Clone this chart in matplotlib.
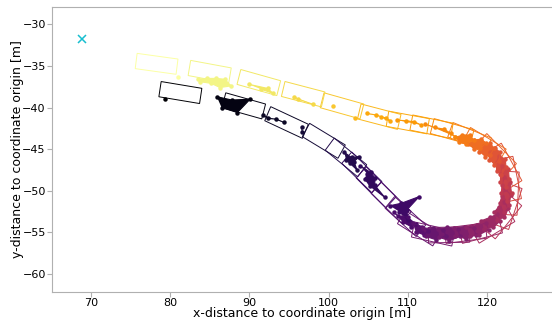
import numpy as np
import matplotlib.pyplot as plt
from matplotlib.patches import Rectangle

# vehicle poses per frame (centre x, centre y, heading in deg)
frame_x = [81.3, 89.3, 94.7, 99.4, 102.2, 104.2, 106.0, 107.9, 109.7, 111.4,
           113.2, 115.2, 117.3, 119.2, 120.8, 122.0, 122.7, 123.0, 122.9, 122.3,
           121.2, 119.7, 117.8, 115.6, 113.0, 110.0, 106.4, 101.7, 96.8, 91.2,
           85.0, 78.3]
frame_y = [-38.2, -39.8, -41.8, -44.0, -46.0, -47.8, -49.6, -51.4, -53.1, -54.5,
           -55.2, -55.3, -55.1, -54.8, -54.2, -53.2, -51.9, -50.3, -48.6, -47.0,
           -45.6, -44.5, -43.6, -42.9, -42.3, -41.8, -41.1, -39.8, -38.4, -37.0,
           -35.7, -34.75]
frame_heading = [-9, -15, -24, -30, -38, -43, -44, -43, -41, -31,
                 -12, 1, 7, 14, 30, 50, 71, 87, 102, 120,
                 136, 150, 159, 165, 169, 170, 166, 165, 166, 165,
                 170, 172.5]

# detected points, one group per entry, with the frame it belongs to
cluster_frame = [0, 1, 2, 3, 4, 5, 6, 7, 8, 9, 10, 11, 12, 13, 14, 15, 16, 17,
                 18, 19, 20, 21, 22, 23, 24, 25, 26, 27, 28, 29, 30, 31]
cluster_x = [
    [79.3],
    [85.9, 87.8, 90.1, 88.5, 86.5],
    [91.7, 92.3, 93.4, 94.4],
    [96.6, 96.7],
    [102.0, 102.9, 103.9, 103.2, 103.6, 102.7, 102.2],
    [104.0, 105.3, 105.9, 105.8, 107.1, 105.2, 104.6, 104.9],
    [107.75, 109.2, 111.45, 109.9, 110.0, 108.9],
    [108.2, 108.8, 110.0, 111.0, 110.4, 109.4],
    [110.6, 111.8, 112.6, 112.0, 111.0],
    [111.9, 113.2, 114.5, 114.8, 113.6, 112.3],
    [113.8, 115.0, 116.3, 116.6, 115.2, 114.0],
    [115.8, 117.2, 118.3, 118.6, 117.4, 116.0],
    [117.4, 118.7, 119.9, 120.2, 119.0, 117.8],
    [119.3, 120.4, 121.3, 121.7, 120.8, 119.6],
    [120.9, 121.5, 122.1, 122.7, 122.2, 121.2],
    [121.6, 121.9, 122.3, 123.0, 122.8, 122.1],
    [121.8, 121.9, 122.2, 122.9, 123.1, 122.5],
    [121.7, 121.7, 121.9, 122.7, 122.8, 122.4],
    [121.2, 121.2, 121.5, 122.3, 122.4, 121.8],
    [120.3, 120.4, 121.0, 121.7, 121.5, 120.9],
    [119.0, 119.6, 120.4, 120.9, 120.4, 119.7],
    [117.6, 118.4, 119.3, 119.9, 119.1, 118.3],
    [116.0, 116.9, 117.8, 118.3, 117.4, 116.5],
    [112.2, 113.4, 114.6, 115.4, 116.0],
    [108.6, 109.8, 110.8, 111.7],
    [104.8, 106.0, 107.3, 107.8, 106.6],
    [103.3],
    [100.6],
    [95.6, 96.2, 98.0],
    [89.9, 92.3, 93.0, 91.5],
    [83.5, 84.6, 85.8, 86.9, 87.7, 86.3, 85.2, 83.8],
    [81.0],
]
cluster_y = [
    [-39.0],
    [-38.7, -39.1, -39.0, -40.6, -40.0],
    [-40.9, -41.3, -41.4, -41.8],
    [-42.4, -43.0],
    [-45.4, -46.0, -45.9, -46.5, -47.5, -46.7, -46.3],
    [-47.0, -47.8, -48.5, -49.3, -50.8, -49.4, -48.6, -48.0],
    [-51.8, -51.5, -50.7, -52.3, -53.5, -52.5],
    [-52.6, -53.0, -53.2, -54.0, -54.3, -53.8],
    [-53.9, -54.3, -54.8, -55.3, -54.9],
    [-54.5, -54.5, -54.7, -55.4, -55.9, -55.5],
    [-54.6, -54.4, -54.6, -55.5, -56.0, -55.6],
    [-54.5, -54.3, -54.5, -55.3, -55.8, -55.4],
    [-54.3, -54.1, -53.9, -54.7, -55.3, -55.4],
    [-53.6, -53.2, -52.8, -53.6, -54.4, -54.6],
    [-52.6, -51.9, -51.3, -52.1, -53.2, -53.5],
    [-51.5, -50.6, -49.8, -50.5, -51.7, -52.5],
    [-50.3, -49.3, -48.3, -49.0, -50.3, -51.2],
    [-49.0, -48.0, -47.0, -47.4, -48.6, -49.6],
    [-47.6, -46.6, -45.8, -46.2, -47.2, -48.1],
    [-46.3, -45.4, -44.9, -45.4, -46.4, -46.9],
    [-45.3, -44.6, -44.3, -44.9, -45.7, -45.9],
    [-44.4, -43.9, -43.8, -44.3, -44.9, -45.0],
    [-43.6, -43.3, -43.3, -43.9, -44.4, -44.2],
    [-42.0, -42.4, -42.6, -43.1, -43.5],
    [-41.5, -41.6, -41.7, -42.1],
    [-40.7, -40.9, -41.3, -41.6, -41.1],
    [-41.3],
    [-39.8],
    [-38.7, -39.0, -39.6],
    [-37.2, -37.7, -38.3, -37.8],
    [-36.6, -36.5, -36.5, -36.6, -37.4, -37.6, -37.1, -36.9],
    [-36.3],
]

origin_x = [68.9]
origin_y = [-31.8]

veh_len = 5.2
veh_wid = 1.85

fig = plt.figure(figsize=(5.52, 3.24), dpi=100)
ax = fig.add_axes([52 / 552, 32 / 324, 500 / 552, 285 / 324])

n = len(frame_x)
colors = plt.cm.inferno(np.linspace(0, 1, n))

for i in range(n):
    r = Rectangle((frame_x[i] - veh_len / 2, frame_y[i] - veh_wid / 2), veh_len, veh_wid,
                  angle=frame_heading[i], rotation_point='center',
                  fill=False, edgecolor=colors[i], lw=0.7)
    ax.add_patch(r)

for f, xs, ys in zip(cluster_frame, cluster_x, cluster_y):
    c = colors[f]
    if len(xs) > 2:
        ax.fill(xs, ys, color=c, lw=0)
    ax.plot(xs, ys, 'o-', color=c, ms=2.2, lw=0.8)

ax.plot(origin_x, origin_y, 'x', color='#17becf', ms=5.5, mew=1.1)

ax.set_xlim(65.1, 128.2)
ax.set_ylim(-62.17, -27.92)
ax.set_xticks([70, 80, 90, 100, 110, 120])
ax.set_yticks([-30, -35, -40, -45, -50, -55, -60])
ax.set_xlabel('x-distance to coordinate origin [m]', fontsize=9, labelpad=-1)
ax.set_ylabel('y-distance to coordinate origin [m]', fontsize=9, labelpad=-1)
ax.tick_params(labelsize=8, color='#b0b0b0', length=3.5, pad=1)
for s in ['left', 'bottom', 'top']:
    ax.spines[s].set_color('#b0b0b0')
ax.spines['right'].set_visible(False)

plt.savefig('out.png', dpi=100)
